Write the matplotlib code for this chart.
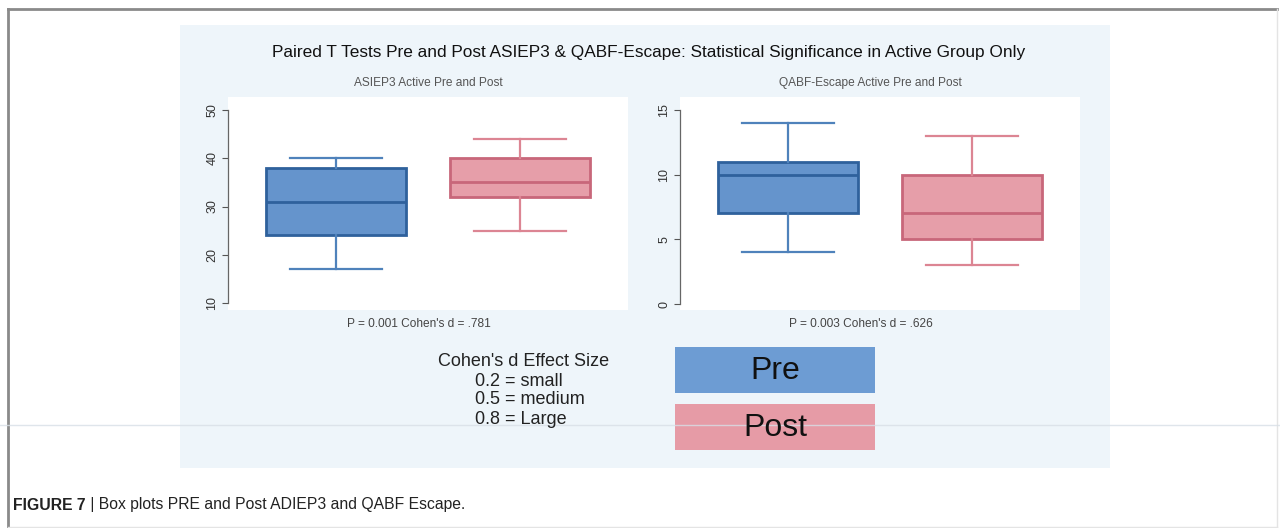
import matplotlib.pyplot as plt
from matplotlib.patches import Rectangle
from matplotlib.lines import Line2D

plt.rcParams['font.family'] = ['Liberation Sans', 'DejaVu Sans']

# summary statistics: (whislo, q1, med, q3, whishi)
groups = ['Pre', 'Post']
asiep3_stats = [(17, 24, 31, 38, 40), (25, 32, 35, 40, 44)]
qabf_stats = [(4, 7, 10, 11, 14), (3, 5, 7, 10, 13)]
asiep3_ticks = [10, 20, 30, 40, 50]
qabf_ticks = [0, 5, 10, 15]

main_title = 'Paired T Tests Pre and Post ASIEP3 & QABF-Escape: Statistical Significance in Active Group Only'
sub_titles = ['ASIEP3 Active Pre and Post', 'QABF-Escape Active Pre and Post']
notes = ["P = 0.001 Cohen's d = .781", "P = 0.003 Cohen's d = .626"]
effect_lines = ["Cohen's d Effect Size", '0.2 = small', '0.5 = medium', '0.8 = Large']
caption_bold = 'FIGURE 7'
caption_rest = ' | Box plots PRE and Post ADIEP3 and QABF Escape.'

fill_cols = ['#6594cc', '#e69ea9']
edge_cols = ['#2f619c', '#c8677a']
whisk_cols = ['#4f82bb', '#dc8593']
legend_cols = ['#6d9cd3', '#e69ba6']

W, H = 1280, 528
fig = plt.figure(figsize=(W / 100, H / 100), dpi=100)


def fx(x):
    return x / W


def fy(y):
    return 1 - y / H


# outer frame and light panel
fig.add_artist(Line2D([fx(8), fx(1277)], [fy(9), fy(9)], color='#8a8a8a', lw=2))
fig.add_artist(Line2D([fx(8), fx(8)], [fy(9), fy(527)], color='#8a8a8a', lw=2))
fig.add_artist(Line2D([fx(1277), fx(1277)], [fy(9), fy(527)], color='#e4e4e4', lw=1))
fig.add_artist(Line2D([fx(8), fx(1277)], [fy(527), fy(527)], color='#e4e4e4', lw=1))
fig.add_artist(Rectangle((fx(180), fy(468)), fx(930), (468 - 25) / H,
                         facecolor='#eef5fa', edgecolor='none', zorder=0))


def box_panel(left, stats, ticks, ylim):
    ax = fig.add_axes([fx(left), fy(310), fx(400), 213 / H])
    data = []
    for (lo, q1, med, q3, hi), name in zip(stats, groups):
        data.append(dict(whislo=lo, q1=q1, med=med, q3=q3, whishi=hi, fliers=[], label=name))
    parts = ax.bxp(data, positions=[0.27, 0.73], widths=0.35, capwidths=0.23,
                   patch_artist=True, showfliers=False, manage_ticks=False)
    for i in range(2):
        parts['boxes'][i].set(facecolor=fill_cols[i], edgecolor=edge_cols[i], linewidth=2)
        parts['medians'][i].set(color=edge_cols[i], linewidth=2)
        for ln in parts['whiskers'][2 * i:2 * i + 2] + parts['caps'][2 * i:2 * i + 2]:
            ln.set(color=whisk_cols[i], linewidth=1.6)
    ax.set_xlim(0, 1)
    ax.set_ylim(*ylim)
    ax.set_yticks(ticks)
    ax.set_yticklabels([str(t) for t in ticks], rotation=90, va='center')
    ax.tick_params(axis='y', length=4, width=0.8, color='#555555', labelsize=9,
                   labelcolor='#333333', pad=3)
    ax.set_xticks([])
    for s in ['top', 'right', 'bottom']:
        ax.spines[s].set_visible(False)
    ax.spines['left'].set_color('#666666')
    ax.spines['left'].set_linewidth(0.9)
    ax.spines['left'].set_bounds(ticks[0], ticks[-1])
    return ax


box_panel(228, asiep3_stats, asiep3_ticks, (8.55, 52.7))
box_panel(680, qabf_stats, qabf_ticks, (-0.46, 16.0))

# titles and notes
fig.text(fx(649), fy(53), main_title, ha='center', va='center', fontsize=12.4, color='#111111')
for cx, sub, note in zip([428, 870], sub_titles, notes):
    fig.text(fx(cx), fy(83), sub, ha='center', va='center', fontsize=8.6, color='#555555')
    fig.text(fx(cx - 9), fy(324), note, ha='center', va='center', fontsize=8.6, color='#444444')

# effect size key
narrow = ['Liberation Sans Narrow', 'Liberation Sans', 'DejaVu Sans']
for j, (txt, y) in enumerate(zip(effect_lines, [361, 381, 400, 419])):
    x = 524 if j == 0 else 475
    fig.text(fx(x), fy(y), txt, ha='center' if j == 0 else 'left', va='center',
             fontsize=13, color='#222222', family=narrow)
for i, (name, y0) in enumerate(zip(groups, [347, 404])):
    fig.add_artist(Rectangle((fx(675), fy(y0 + 46)), fx(200), 46 / H,
                             facecolor=legend_cols[i], edgecolor='none'))
    fig.text(fx(775), fy(y0 + 24), name, ha='center', va='center', fontsize=23,
             color='#111111', family=narrow)

# faint scan line
fig.add_artist(Line2D([0, 1], [fy(425), fy(425)], color='#d8dfe6', lw=1, alpha=0.8))

# caption
t = fig.text(fx(13), fy(505), caption_bold, ha='left', va='center', fontsize=11.3,
             fontweight='bold', color='#222222')
fig.canvas.draw()
bb = t.get_window_extent()
fig.text(bb.x1 / W, fy(505), caption_rest, ha='left', va='center', fontsize=11.3,
         color='#222222')

fig.savefig('out.png', dpi=100)
